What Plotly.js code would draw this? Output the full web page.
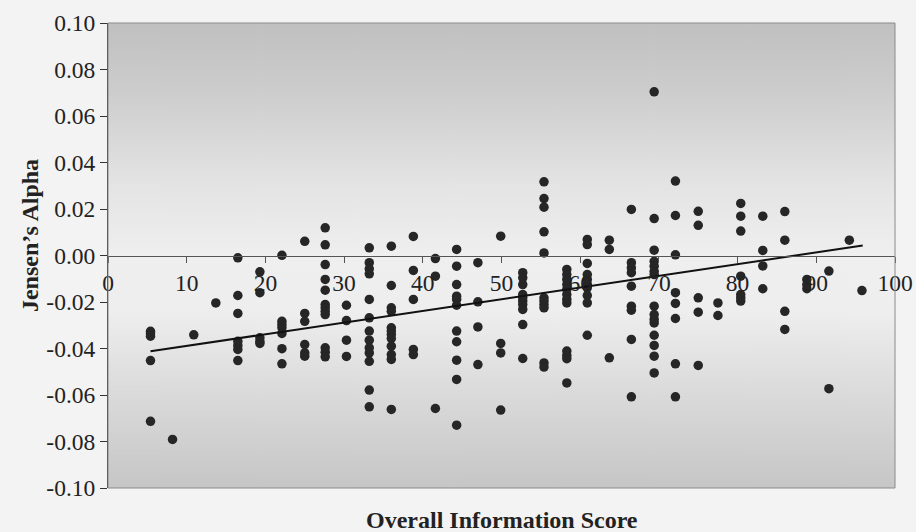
<!DOCTYPE html>
<html>
<head>
<meta charset="utf-8">
<script src="https://cdn.plot.ly/plotly-3.0.1.min.js"></script>
<style>
  html, body { margin: 0; padding: 0; background: #f3f3f3; }
  #chart { width: 916px; height: 532px; }
</style>
</head>
<body>
<div id="chart"></div>
<script>
// ---- Data ----
const columnX = [5.4, 8.2, 10.9, 13.7, 16.5, 19.3, 22.1, 25.0, 27.6, 30.3, 33.2, 36.0, 38.8, 41.6, 44.3, 47.0, 49.9, 52.7, 55.4, 58.3, 60.9, 63.7, 66.5, 69.4, 72.1, 75.0, 77.5, 80.4, 83.2, 86.0, 88.8, 91.6, 94.2, 95.8];
const columnY = [
  [-0.0326, -0.0337, -0.0347, -0.0452, -0.0713],
  [-0.0791],
  [-0.0341],
  [-0.0204],
  [-0.0010, -0.0172, -0.0249, -0.0369, -0.0387, -0.0404, -0.0452],
  [-0.0070, -0.0160, -0.0354, -0.0369, -0.0378],
  [0.0001, -0.0283, -0.0297, -0.0311, -0.0335, -0.0401, -0.0466],
  [0.0061, -0.0249, -0.0283, -0.0383, -0.0419, -0.0433],
  [0.0119, 0.0046, -0.0039, -0.0103, -0.0149, -0.0211, -0.0225, -0.0240, -0.0254, -0.0397, -0.0416, -0.0436],
  [-0.0214, -0.0280, -0.0364, -0.0434],
  [0.0033, -0.0031, -0.0057, -0.0079, -0.0189, -0.0268, -0.0325, -0.0364, -0.0397, -0.0419, -0.0455, -0.0579, -0.0651],
  [0.0040, -0.0129, -0.0225, -0.0240, -0.0311, -0.0325, -0.0340, -0.0357, -0.0390, -0.0426, -0.0447, -0.0662],
  [0.0082, -0.0064, -0.0189, -0.0404, -0.0426],
  [-0.0013, -0.0089, -0.0658],
  [0.0026, -0.0046, -0.0125, -0.0175, -0.0189, -0.0214, -0.0325, -0.0371, -0.0450, -0.0533, -0.0730],
  [-0.0031, -0.0199, -0.0307, -0.0469],
  [0.0083, -0.0378, -0.0419, -0.0665],
  [-0.0074, -0.0096, -0.0125, -0.0168, -0.0182, -0.0196, -0.0211, -0.0232, -0.0297, -0.0443],
  [0.0317, 0.0245, 0.0208, 0.0102, 0.0011, -0.0182, -0.0196, -0.0211, -0.0225, -0.0462, -0.0480],
  [-0.0060, -0.0082, -0.0103, -0.0125, -0.0146, -0.0168, -0.0189, -0.0204, -0.0411, -0.0430, -0.0444, -0.0548],
  [0.0069, 0.0047, -0.0034, -0.0082, -0.0103, -0.0125, -0.0139, -0.0172, -0.0204, -0.0343],
  [0.0066, 0.0026, -0.0440],
  [0.0198, -0.0031, -0.0053, -0.0074, -0.0132, -0.0218, -0.0235, -0.0361, -0.0608],
  [0.0704, 0.0159, 0.0023, -0.0025, -0.0046, -0.0068, -0.0082, -0.0218, -0.0254, -0.0275, -0.0290, -0.0343, -0.0387, -0.0433, -0.0505],
  [0.0320, 0.0172, 0.0003, -0.0160, -0.0206, -0.0271, -0.0466, -0.0608],
  [0.0190, 0.0130, -0.0182, -0.0244, -0.0473],
  [-0.0204, -0.0258],
  [0.0224, 0.0169, 0.0105, -0.0089, -0.0168, -0.0182, -0.0196],
  [0.0169, 0.0022, -0.0045, -0.0143],
  [0.0189, 0.0066, -0.0240, -0.0318],
  [-0.0103, -0.0125, -0.0143],
  [-0.0067, -0.0573],
  [0.0066],
  [-0.0151]
];
const trendX = [5.4, 95.9];
const trendY = [-0.0412, 0.0043];
const xTickVals = [0, 10, 20, 30, 40, 50, 60, 70, 80, 90, 100];
const yTickVals = [0.10, 0.08, 0.06, 0.04, 0.02, 0.00, -0.02, -0.04, -0.06, -0.08, -0.10];
const yTickText = ['0.10', '0.08', '0.06', '0.04', '0.02', '0.00', '-0.02', '-0.04', '-0.06', '-0.08', '-0.10'];
const xTitle = 'Overall Information Score';
const yTitle = 'Jensen\u2019s Alpha';

// ---- Build flat point lists ----
const px = [], py = [];
columnX.forEach((x, i) => columnY[i].forEach(y => { px.push(x); py.push(y); }));

// ---- Background gradient image ----
const cv = document.createElement('canvas');
cv.width = 8; cv.height = 465;
const ctx = cv.getContext('2d');
const g = ctx.createLinearGradient(0, 0, 0, 465);
g.addColorStop(0.00, '#c0c0c0');
g.addColorStop(0.15, '#cdcdcd');
g.addColorStop(0.35, '#e4e4e4');
g.addColorStop(0.50, '#efefef');
g.addColorStop(0.62, '#eeeeee');
g.addColorStop(0.80, '#dadada');
g.addColorStop(1.00, '#c6c6c6');
ctx.fillStyle = g;
ctx.fillRect(0, 0, 8, 465);
const bgURL = cv.toDataURL('image/png');

const serif = 'Liberation Serif, Times New Roman, serif';

const traces = [
  {
    type: 'scatter', mode: 'markers', x: px, y: py,
    marker: { symbol: 'circle', size: 9.5, color: '#262626' },
    hoverinfo: 'x+y', showlegend: false
  },
  {
    type: 'scatter', mode: 'lines', x: trendX, y: trendY,
    line: { color: '#111111', width: 2 },
    hoverinfo: 'skip', showlegend: false
  }
];

const layout = {
  width: 916, height: 532,
  margin: { l: 108, r: 21, t: 23, b: 44, pad: 0 },
  paper_bgcolor: '#f3f3f3',
  plot_bgcolor: 'rgba(0,0,0,0)',
  showlegend: false,
  xaxis: {
    range: [0, 100], anchor: 'free', position: 0.5,
    tickmode: 'array', tickvals: xTickVals, ticktext: xTickVals.map(String),
    ticks: 'outside', ticklen: 6, tickwidth: 1, tickcolor: '#555',
    showline: true, linecolor: '#555', linewidth: 1,
    showgrid: false, zeroline: false,
    tickfont: { family: serif, size: 23.5, color: '#222' }
  },
  yaxis: {
    range: [-0.1, 0.1],
    tickmode: 'array', tickvals: yTickVals, ticktext: yTickText,
    ticks: 'outside', ticklen: 7, tickwidth: 1, tickcolor: '#333',
    showline: true, linecolor: '#333', linewidth: 1,
    showgrid: false, zeroline: false,
    tickfont: { family: serif, size: 23.5, color: '#222' }
  },
  images: [{
    source: bgURL, xref: 'paper', yref: 'paper', x: 0, y: 1,
    sizex: 1, sizey: 1, sizing: 'stretch', xanchor: 'left', yanchor: 'top',
    layer: 'below'
  }],
  shapes: [{
    type: 'rect', xref: 'paper', yref: 'paper', x0: 0, x1: 1, y0: 0, y1: 1,
    line: { color: '#8a8a8a', width: 1 }, fillcolor: 'rgba(0,0,0,0)', layer: 'above'
  }],
  annotations: [
    {
      text: '<b>' + xTitle + '</b>', xref: 'paper', yref: 'paper',
      x: 0.5, y: -0.069, xanchor: 'center', yanchor: 'middle', showarrow: false,
      font: { family: serif, size: 24, color: '#222' }
    },
    {
      text: '<b>' + yTitle + '</b>', xref: 'paper', yref: 'paper',
      x: -0.099, y: 0.542, xanchor: 'center', yanchor: 'middle', showarrow: false,
      textangle: -90, font: { family: serif, size: 24, color: '#222' }
    }
  ]
};

Plotly.newPlot('chart', traces, layout, { displayModeBar: false, staticPlot: true });
</script>
</body>
</html>
